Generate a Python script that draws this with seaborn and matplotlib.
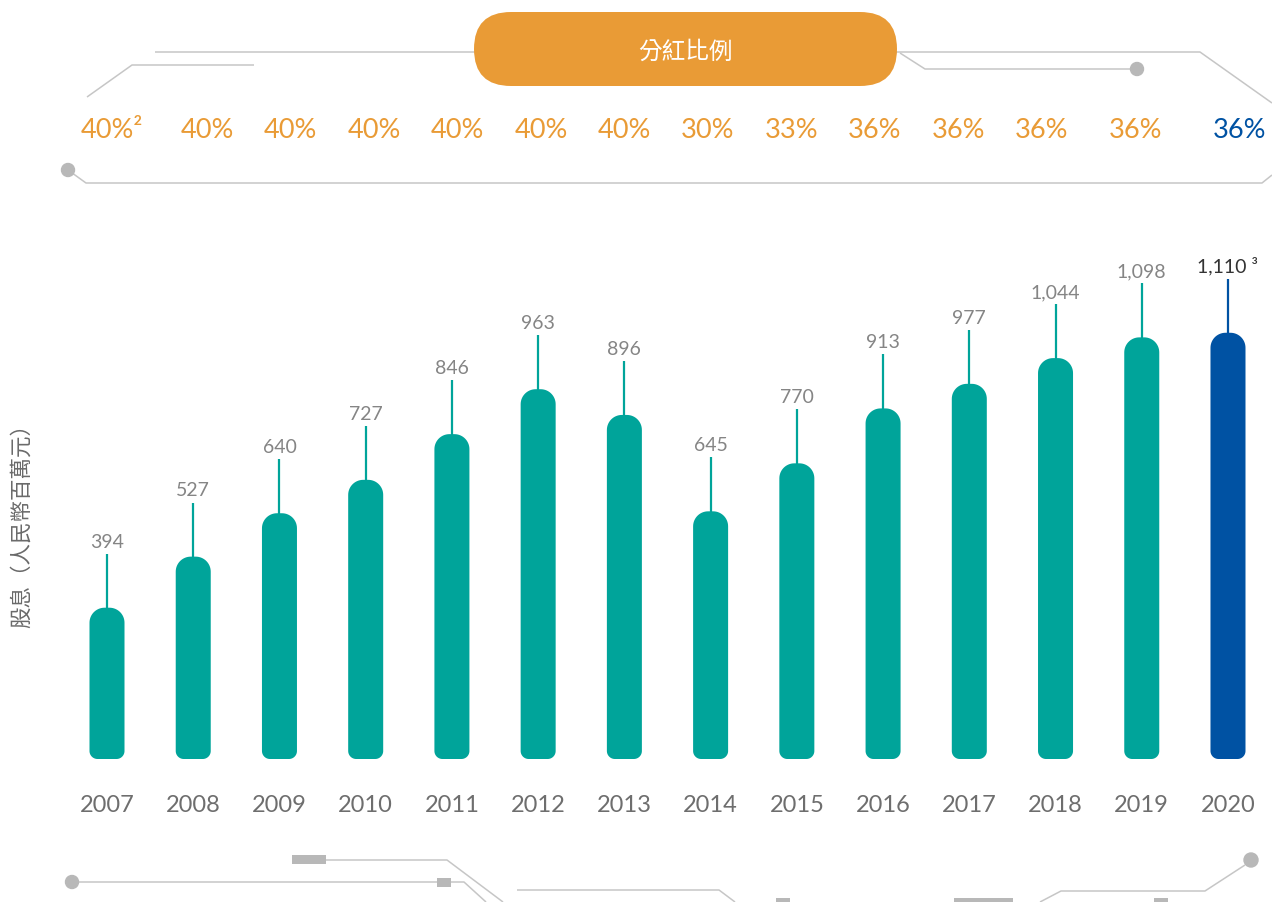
import matplotlib
matplotlib.use("Agg")
import matplotlib.pyplot as plt
import numpy as np
import seaborn as sns
from matplotlib.patches import FancyBboxPatch, Rectangle, Circle, Polygon

# data
years = ["2007", "2008", "2009", "2010", "2011", "2012", "2013",
         "2014", "2015", "2016", "2017", "2018", "2019", "2020"]
dividends = [394, 527, 640, 727, 846, 963, 896, 645, 770, 913, 977, 1044, 1098, 1110]
value_labels = ["394", "527", "640", "727", "846", "963", "896", "645", "770",
                "913", "977", "1,044", "1,098", "1,110 ³"]
payout = ["40%²", "40%", "40%", "40%", "40%", "40%", "40%", "30%", "33%",
          "36%", "36%", "36%", "36%", "36%"]

TEAL = "#00A49A"
BLUE = "#0052A3"
ORANGE = "#E99B36"
LINE = "#C6C6C6"
DOT = "#B8B8B8"

sns.set_theme(style="white")
plt.rcParams["font.family"] = ["Lato", "Liberation Sans", "DejaVu Sans"]
cjk = ["Noto Sans CJK TC", "DejaVu Sans"]

W, H = 1272, 903
fig = plt.figure(figsize=(W / 100, H / 100), dpi=100)

# pixel geometry of the bar panel
step = 86.23
base_px = 760
px_per_unit = 0.384
ax_left = 107 - step / 2
ax = fig.add_axes([ax_left / W, (H - base_px) / H, 14 * step / W, 560 / H])
ymax = 560 / px_per_unit

palette = [TEAL] * 13 + [BLUE]
sns.barplot(x=years, y=dividends, hue=years, palette=palette, legend=False,
            width=0.406, saturation=1, ax=ax)
ax.set_xlim(-0.5, 13.5)
ax.set_ylim(0, ymax)

xu = 1 / step            # x data units per pixel
yu = 1 / px_per_unit     # y data units per pixel


def rounded_bar(x0, w, h, r_top, r_bot):
    # outline of a bar whose corners are round in pixel space
    def arc(cx, cy, r, a0, a1):
        t = np.linspace(np.radians(a0), np.radians(a1), 16)
        return np.column_stack([cx + r * xu * np.cos(t), cy + r * yu * np.sin(t)])
    x1 = x0 + w
    pts = [
        arc(x0 + r_bot * xu, r_bot * yu, r_bot, 180, 270),
        arc(x1 - r_bot * xu, r_bot * yu, r_bot, 270, 360),
        arc(x1 - r_top * xu, h - r_top * yu, r_top, 0, 90),
        arc(x0 + r_top * xu, h - r_top * yu, r_top, 90, 180),
    ]
    return np.vstack(pts)


# swap the square bars for rounded ones
for p in list(ax.patches):
    x0, w, h = p.get_x(), p.get_width(), p.get_height()
    col = p.get_facecolor()
    p.remove()
    ax.add_patch(Polygon(rounded_bar(x0, w, h, 15, 8), closed=True,
                         fc=col, ec="none", zorder=2))

# stems and value labels
stem = 54 * yu
for i, v in enumerate(dividends):
    col = palette[i]
    ax.plot([i, i], [v - 10 * yu, v + stem], color=col, lw=1.6, zorder=1,
            solid_capstyle="butt")
    ax.annotate(value_labels[i], (i, v + stem), xytext=(0, 3),
                textcoords="offset points", ha="center", va="bottom",
                fontsize=14, color="#333333" if i == 13 else "#858585")

ax.set_xticks(range(len(years)))
ax.set_xticklabels(years, fontsize=17, color="#6E6E6E")
ax.tick_params(axis="x", length=0, pad=25)
ax.set_yticks([])
ax.set_xlabel("")
ax.set_ylabel("")
sns.despine(ax=ax, left=True, bottom=True)

# overlay in pixel coordinates for the decoration
deco = fig.add_axes([0, 0, 1, 1], zorder=0)
deco.set_xlim(0, W)
deco.set_ylim(H, 0)
deco.axis("off")
deco.patch.set_alpha(0)


def trace(xs, ys, lw=1.1, color=LINE):
    deco.plot(xs, ys, color=color, lw=lw, solid_capstyle="butt", zorder=1)


# top decoration
trace([155, 480], [53, 53])
trace([890, 1200, 1272], [53, 53, 104])
trace([900, 925, 1137], [54, 70, 70])
deco.add_patch(Circle((1137, 70), 6.5, color=DOT, zorder=2))
trace([87, 132, 254], [98, 66, 66])
trace([68, 86, 1262, 1272], [171, 184, 184, 176])
deco.add_patch(Circle((68, 171), 6.5, color=DOT, zorder=2))

pill = FancyBboxPatch((474, 13), 423, 74, boxstyle="round,pad=0,rounding_size=37",
                      fc=ORANGE, ec="none", zorder=3)
deco.add_patch(pill)
deco.text(685, 52, "分紅比例", color="white", fontsize=17, ha="center",
          va="center", family=cjk, zorder=4)

# payout ratio row
pct_x = [112, 207, 290.5, 374, 457.5, 541, 624.5, 708, 791.5, 875, 958.5,
         1042, 1136, 1240]
for i, t in enumerate(payout):
    deco.text(pct_x[i], 131, t, color=BLUE if i == 13 else ORANGE, fontsize=19.5,
              ha="center", va="center")

# y label
deco.text(22, 521, "股息（人民幣百萬元）", rotation=90, ha="center", va="center",
          fontsize=15.5, color="#6A6A6A", family=cjk)

# bottom decoration
deco.add_patch(Rectangle((292, 856), 34, 9, color=DOT, lw=0))
trace([326, 447, 503], [861, 861, 903])
trace([72, 464, 486], [883, 883, 903])
deco.add_patch(Circle((72, 883), 6.5, color=DOT, zorder=2))
deco.add_patch(Rectangle((437, 879), 14, 9, color=DOT, lw=0))
trace([517, 719, 735], [891, 891, 903])
deco.add_patch(Rectangle((776, 899), 14, 4, color=DOT, lw=0))
deco.add_patch(Rectangle((954, 899), 59, 4, color=DOT, lw=0))
deco.add_patch(Rectangle((1154, 899), 14, 4, color=DOT, lw=0))
trace([1040, 1061, 1205, 1245], [903, 892, 892, 866])
deco.add_patch(Circle((1251, 861), 7, color=DOT, zorder=2))

fig.savefig("out.png", dpi=100, facecolor="white")
